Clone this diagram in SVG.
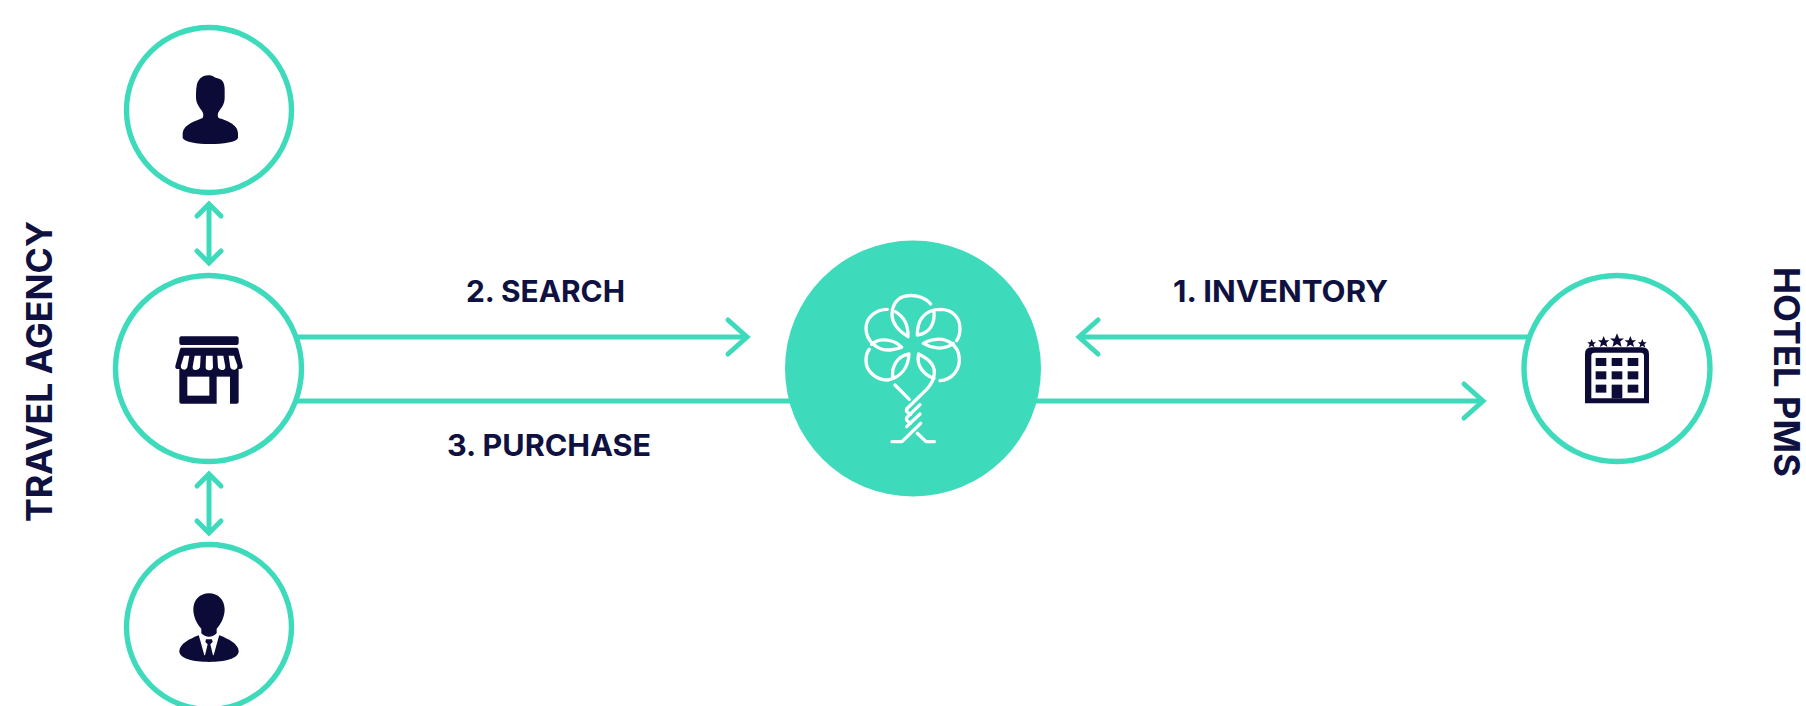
<svg xmlns="http://www.w3.org/2000/svg" width="1806" height="706" viewBox="0 0 1806 706">
<style>
.ring{fill:#fff;stroke:#3ddbbb;stroke-width:5.4}
.hub{fill:#3ddbbb}
.icon{fill:#0c0a36}
.cut{fill:#fff}
.conn{fill:none;stroke:#3ddbbb;stroke-width:5;marker-end:url(#head)}
.both{marker-end:url(#headSmall);marker-start:url(#headSmallStart)}
.tree{fill:none;stroke:#fff;stroke-width:10;stroke-linecap:round;stroke-linejoin:round}
.lbl{font-family:"Inter","Liberation Sans",sans-serif;font-weight:700;fill:#0f1140;font-size:30px}
.side{font-size:36px}
</style>
<defs>
<marker id="head" markerUnits="userSpaceOnUse" markerWidth="60" markerHeight="60" refX="40" refY="30" orient="auto" overflow="visible">
<path d="M21 13 L40 30 L21 47" fill="none" stroke="#3ddbbb" stroke-width="5" stroke-linecap="round"/>
</marker>
<marker id="headSmall" markerUnits="userSpaceOnUse" markerWidth="60" markerHeight="60" refX="40" refY="30" orient="auto" overflow="visible">
<path d="M28 18 L40 30 L28 42" fill="none" stroke="#3ddbbb" stroke-width="5" stroke-linecap="round"/>
</marker>
<marker id="headSmallStart" markerUnits="userSpaceOnUse" markerWidth="60" markerHeight="60" refX="20" refY="30" orient="auto" overflow="visible">
<path d="M32 18 L20 30 L32 42" fill="none" stroke="#3ddbbb" stroke-width="5" stroke-linecap="round"/>
</marker>
<path id="star" d="M0 -1 L0.29 -0.31 L0.95 -0.31 L0.44 0.12 L0.62 0.85 L0 0.45 L-0.62 0.85 L-0.44 0.12 L-0.95 -0.31 L-0.29 -0.31 Z"/>
</defs>

<g id="connectors">
<line class="conn" x1="296" y1="337" x2="747" y2="337"/>
<line class="conn" x1="296" y1="401" x2="1483" y2="401"/>
<line class="conn" x1="1530" y1="337" x2="1079" y2="337"/>
<line class="conn both" x1="209" y1="204" x2="209" y2="263"/>
<line class="conn both" x1="209" y1="474" x2="209" y2="533"/>
</g>

<g id="node-traveller">
<circle class="ring" cx="209" cy="110" r="82.5"/>
<path class="icon" transform="translate(100 0) scale(.3333)" d="M325 226 C340 226 345 234 352 235 C368 237 374 250 374 270 L374 296 C374 310 366 322 358 332 C352 340 352 348 356 354 C375 360 414 372 414 400 L414 414 C410 426 370 432 330 432 C290 432 255 426 248 414 L248 398 C252 372 290 362 308 354 C312 346 310 338 304 330 C296 320 288 308 288 292 C288 282 288 270 290 258 C292 240 306 226 325 226 Z"/>
</g>

<g id="node-agency">
<circle class="ring" cx="208.5" cy="368.5" r="93"/>
<g transform="translate(100 260) scale(.3333)">
<rect class="icon" x="238" y="229" width="178" height="26" rx="6"/>
<path class="icon" d="M244 263 H410 Q414 263 415 268 L428 318 Q429 327 420 327 L416 327 V425 Q416 431 410 431 H244 Q238 431 238 425 V327 H232 Q225 327 226 318 L240 268 Q241 263 244 263Z"/>
<path class="cut" d="M252 287 H268 L262 322 Q258 332 248 328 Q241 325 243 316 Z"/>
<path class="cut" d="M284 287 H302 L300 322 Q296 332 285 330 Q277 328 278 320Z"/>
<path class="cut" d="M318 287 H338 L339 322 Q337 332 328 331 Q317 331 317 322 Z"/>
<path class="cut" d="M352 287 H370 L376 320 Q376 330 366 330 Q357 331 354 322 Z"/>
<path class="cut" d="M386 287 H402 L412 316 Q414 326 404 329 Q394 331 391 322Z"/>
<rect class="cut" x="262" y="350" width="66" height="57"/>
<rect class="cut" x="350" y="350" width="40" height="84"/>
</g>
</g>

<g id="node-agent">
<circle class="ring" cx="209" cy="627" r="82.5"/>
<g transform="translate(100 460) scale(.3333)">
<path class="icon" d="M296 526 C270 536 238 552 238 574 C238 596 280 606 327 606 C374 606 416 596 416 574 C416 552 384 536 358 526 Z"/>
<path class="cut" d="M296 524 L313 586 L341 586 L358 524 Z"/>
<path class="icon" d="M327 400 C354 400 374 420 374 448 C374 472 362 494 350 506 L350 520 Q340 530 327 530 Q314 530 304 520 L304 506 C292 494 280 472 280 448 C280 420 300 400 327 400Z"/>
<path class="icon" d="M318 538 H336 L338 546 L331 553 L340 590 H314 L323 553 L316 546Z"/>
</g>
</g>

<g id="node-hub">
<circle class="hub" cx="913" cy="368.5" r="128"/>
<g class="tree" transform="translate(780 230) scale(.3333)">
<path d="M452 222 C432 198 398 192 370 200 C345 208 335 235 336 255 C337 285 360 305 384 320 C385 290 375 262 346 245"/>
<path d="M462 245 C465 280 450 310 412 315 C412 280 425 240 480 238 C520 238 540 265 540 295 C540 310 535 325 530 332"/>
<path d="M480 452 C515 450 540 420 538 385 C536 345 500 325 470 328 C450 330 438 335 430 340 C450 352 490 365 520 340"/>
<path d="M462 445 C430 435 408 405 416 372 C440 385 465 400 463 430 C462 450 455 462 440 478 L380 537"/>
<path d="M338 440 C335 410 350 380 387 372 C385 410 365 440 325 450 C285 452 258 420 258 392 C258 378 262 365 268 358"/>
<path d="M322 238 C285 238 258 265 258 295 C258 335 295 362 330 360 C345 358 358 355 365 352 C345 330 300 320 275 343"/>
<path d="M345 465 L388 508"/>
<path d="M380 537 Q376 546 392 553"/>
<path d="M420 524 L380 563 Q376 572 392 579"/>
<path d="M420 552 L380 590"/>
<path d="M422 580 L366 635 H336"/>
<path d="M412 610 L438 635 H463"/>
</g>
</g>

<g id="node-hotel">
<circle class="ring" cx="1617" cy="368.5" r="93"/>
<g transform="translate(1500 250) scale(.3333)">
<path class="icon" d="M275 292 H427 Q447 292 447 312 V460 H255 V312 Q255 292 275 292Z"/>
<path class="cut" d="M284 308 H422 Q432 308 432 318 V445 H274 V318 Q274 308 284 308Z"/>
<rect class="icon" x="287" y="324" width="32" height="24"/>
<rect class="icon" x="335" y="324" width="32" height="24"/>
<rect class="icon" x="383" y="324" width="32" height="24"/>
<rect class="icon" x="287" y="364" width="32" height="24"/>
<rect class="icon" x="335" y="364" width="32" height="24"/>
<rect class="icon" x="383" y="364" width="32" height="24"/>
<rect class="icon" x="287" y="404" width="32" height="24"/>
<rect class="icon" x="335" y="404" width="32" height="41"/>
<rect class="icon" x="383" y="404" width="32" height="24"/>
<use href="#star" class="icon" transform="translate(275 281) scale(14)"/>
<use href="#star" class="icon" transform="translate(311 276) scale(18)"/>
<use href="#star" class="icon" transform="translate(351 272) scale(22)"/>
<use href="#star" class="icon" transform="translate(391 276) scale(18)"/>
<use href="#star" class="icon" transform="translate(427 281) scale(14)"/>
</g>
</g>

<g id="labels">
<text class="lbl" x="466" y="302" textLength="159" lengthAdjust="spacingAndGlyphs">2. SEARCH</text>
<text class="lbl" x="447" y="456" textLength="204" lengthAdjust="spacingAndGlyphs">3. PURCHASE</text>
<text class="lbl" x="1173" y="302" textLength="215" lengthAdjust="spacingAndGlyphs">1. INVENTORY</text>
<text class="lbl side" transform="translate(52 522) rotate(-90)" textLength="301" lengthAdjust="spacingAndGlyphs">TRAVEL AGENCY</text>
<text class="lbl side" transform="translate(1774 267) rotate(90)" textLength="210" lengthAdjust="spacingAndGlyphs">HOTEL PMS</text>
</g>
</svg>
